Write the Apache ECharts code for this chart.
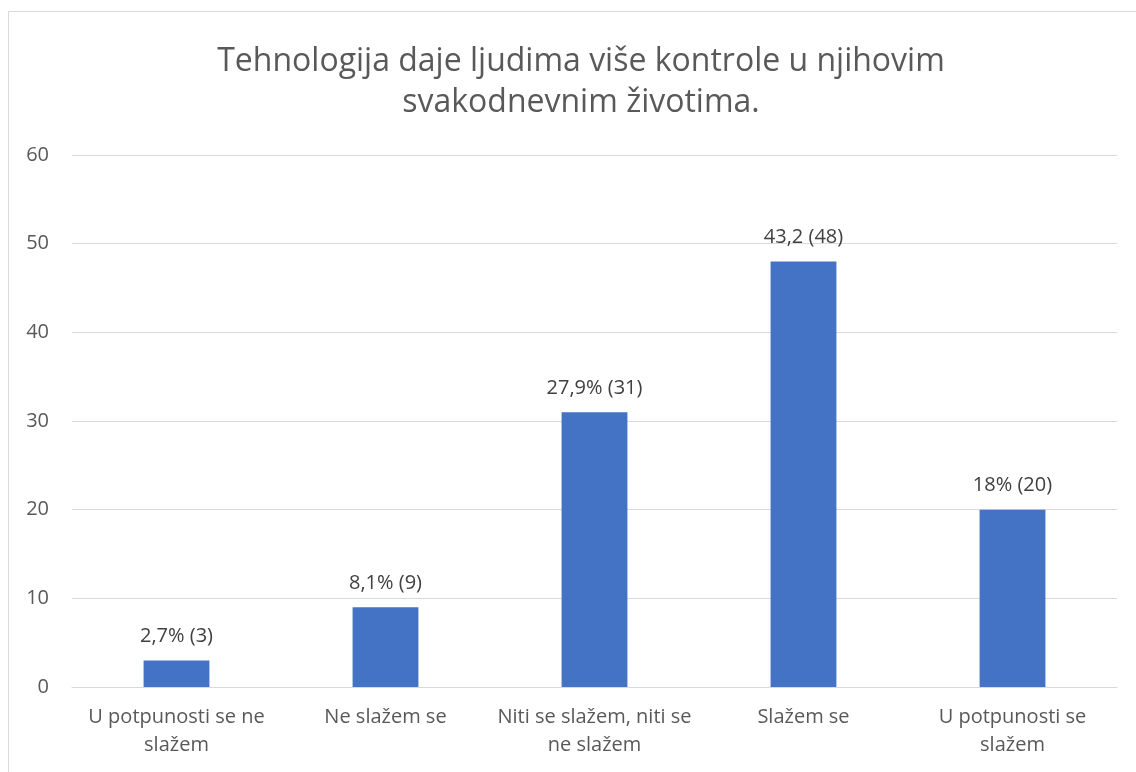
<!DOCTYPE html>
<html>
<head>
<meta charset="utf-8">
<title>Tehnologija daje ljudima više kontrole</title>
<script src="https://cdn.jsdelivr.net/npm/echarts@6/dist/echarts.min.js"></script>
<style>
  body { margin:0; background:#fff; }
  #main { width:1136px; height:772px; }
</style>
</head>
<body>
<div id="main"></div>
<script>
// podaci
var categories = ['U potpunosti se ne\nslažem', 'Ne slažem se', 'Niti se slažem, niti se\nne slažem', 'Slažem se', 'U potpunosti se\nslažem'];
var counts = [3, 9, 31, 48, 20];
var labels = ['2,7% (3)', '8,1% (9)', '27,9% (31)', '43,2 (48)', '18% (20)'];
var yTicks = [0, 10, 20, 30, 40, 50, 60];

var fontName = 'Open Sans';
var txtColor = '#595959';

var myChart = echarts.init(document.getElementById('main'));

var option = {
	animation: false,
	backgroundColor: '#fff',
	graphic: [{
		type: 'rect',
		shape: { x: 8.5, y: 11.5, width: 1200, height: 900 },
		style: { fill: 'none', stroke: '#d9d9d9', lineWidth: 1 },
		silent: true
	}],
	title: {
		text: 'Tehnologija daje ljudima više kontrole u njihovim\nsvakodnevnim životima.',
		left: 576,
		top: 36,
		textAlign: 'center',
		textStyle: {
			fontFamily: fontName,
			fontSize: 32,
			fontWeight: 'normal',
			color: txtColor,
			lineHeight: 41
		}
	},
	grid: { left: 72, right: 19, top: 155, bottom: 85 },
	xAxis: {
		type: 'category',
		data: categories,
		axisLine: { lineStyle: { color: '#d9d9d9', width: 1 } },
		axisTick: { show: false },
		axisLabel: {
			color: txtColor,
			fontFamily: fontName,
			fontSize: 20,
			lineHeight: 28,
			margin: 16,
			interval: 0
		}
	},
	yAxis: {
		type: 'value',
		min: yTicks[0],
		max: yTicks[yTicks.length - 1],
		interval: 10,
		axisLine: { show: false },
		axisTick: { show: false },
		splitLine: { lineStyle: { color: '#d9d9d9', width: 1 } },
		axisLabel: {
			color: txtColor,
			fontFamily: fontName,
			fontSize: 20,
			margin: 23
		}
	},
	series: [{
		type: 'bar',
		data: counts,
		barWidth: '31.5%',
		itemStyle: { color: '#4472c4' },
		label: {
			show: true,
			position: 'top',
			distance: 14,
			color: '#404040',
			fontFamily: fontName,
			fontSize: 20,
			formatter: function (p) { return labels[p.dataIndex]; }
		}
	}]
};
myChart.setOption(option);
</script>
</body>
</html>
